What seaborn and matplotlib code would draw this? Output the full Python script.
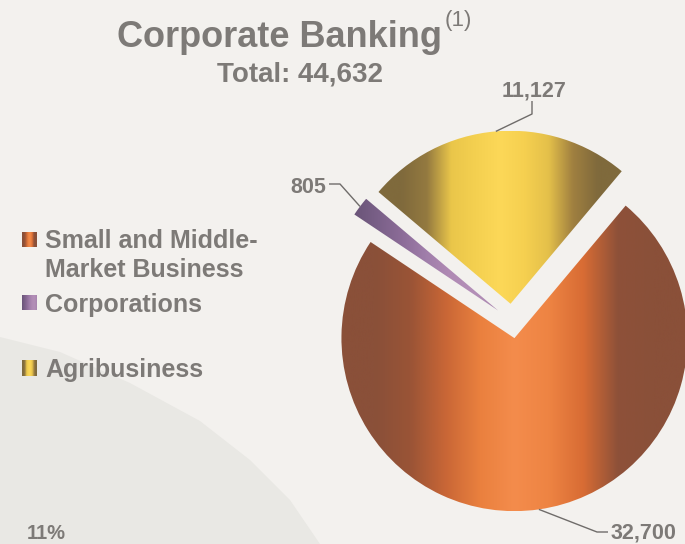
import numpy as np
import matplotlib
matplotlib.use("Agg")
import matplotlib.pyplot as plt
import seaborn as sns

# ---------------- data ----------------
categories = ["Small and Middle-\nMarket Business", "Corporations", "Agribusiness"]
values = [32700, 805, 11127]
value_labels = ["32,700", "805", "11,127"]
title = "Corporate Banking"
footnote_mark = "(1)"
total_label = "Total: 44,632"
corner_text = "11%"

# ---------------- style ----------------
sns.set_theme(style="white")
plt.rcParams['font.family'] = ['Liberation Sans', 'DejaVu Sans']
TC = '#7d7a77'
BG = '#f3f1ee'
LINE = '#6f6c6a'

W, H = 685, 544
CX, CY, R = 512, 321, 173


def d(px, py):
    """pixel position (from top-left) -> data coords of the full-figure axes"""
    return ((px - CX) / R, (CY - py) / R)


gradients = [
    ["#8a5039", "#8a5039", "#9a5436", "#c86636", "#ea803e", "#f48c4c",
     "#ee8443", "#d86c34", "#8e5139", "#8a5039", "#8a5039"],
    ["#6a5478", "#7a6088", "#8c6c98", "#a07eaa", "#b08ab4", "#b490b8", "#a884ae"],
    ["#7f6a3c", "#806a3c", "#947a40", "#eac64a", "#f4d050", "#fcd858",
     "#f6d050", "#e4c04a", "#a08040", "#806a3c", "#7f6a3c"],
]
cmaps = [sns.blend_palette(g, n_colors=256, as_cmap=True) for g in gradients]
grad = np.linspace(0, 1, 256).reshape(1, -1)

fig = plt.figure(figsize=(W / 100, H / 100), dpi=100, facecolor=BG)
ax = fig.add_axes([0, 0, 1, 1])
ax.set_facecolor(BG)

# subtle background swoosh
bg_pts = [(0, 337), (60, 352), (130, 383), (200, 421), (250, 460), (290, 500),
          (320, 544), (0, 544)]
ax.fill([d(*p)[0] for p in bg_pts], [d(*p)[1] for p in bg_pts],
        color='#e9e8e4', zorder=0, lw=0)

# ---------------- pie ----------------
wedges, _ = ax.pie(values, explode=[0.1] * len(values), startangle=50,
                   counterclock=False, radius=1,
                   wedgeprops=dict(linewidth=0))
for w, cm in zip(wedges, cmaps):
    ext = w.get_path().get_extents()
    w.set_facecolor('none')
    im = ax.imshow(grad, cmap=cm, extent=[ext.x0, ext.x1, ext.y0, ext.y1],
                   aspect='auto', origin='lower', zorder=2,
                   interpolation='bicubic')
    im.set_clip_path(w)

# ---------------- value labels with leader lines ----------------
# (elbow, end, text anchor, ha) in pixel layout
leader_layout = [
    ((597, 532), (608, 532), (611, 539), 'left'),
    ((340, 184), (329, 184), (326, 193), 'right'),
    ((532, 114), (532, 101), (534, 96), 'center'),
]
for w, lab, (elb, end, tpos, ha) in zip(wedges, value_labels, leader_layout):
    mid = np.deg2rad((w.theta1 + w.theta2) / 2)
    sx = w.center[0] + w.r * np.cos(mid)
    sy = w.center[1] + w.r * np.sin(mid)
    ex, ey = d(*elb)
    nx, ny = d(*end)
    ax.plot([sx, ex, nx], [sy, ey, ny], color=LINE, lw=1, zorder=3,
            solid_capstyle='butt')
    ax.text(*d(*tpos), lab, ha=ha, va='baseline', fontsize=15.5,
            fontweight='bold', color=TC, zorder=4)

# ---------------- titles ----------------
ax.text(*d(280, 47), title, ha='center', va='baseline', fontsize=26,
        fontweight='bold', color=TC)
ax.text(*d(445, 26), footnote_mark, ha='left', va='baseline', fontsize=16,
        color=TC)
ax.text(*d(300, 82), total_label, ha='center', va='baseline', fontsize=20,
        fontweight='bold', color=TC)

# ---------------- legend ----------------
legend_rows = [(232, 247, 248), (295, 310, 312), (360, 376, 377)]
for cat, cm, (y0, y1, base) in zip(categories, cmaps, legend_rows):
    x0, yb = d(22, y1)
    x1, yt = d(37, y0)
    ax.imshow(grad, cmap=cm, extent=[x0, x1, yb, yt], aspect='auto',
              origin='lower', zorder=3, interpolation='bicubic')
    for i, line in enumerate(cat.split("\n")):
        ax.text(*d(45, base + 29 * i), line, ha='left', va='baseline',
                fontsize=18, fontweight='bold', color=TC)

ax.text(*d(27, 539), corner_text, ha='left', va='baseline', fontsize=14.5,
        fontweight='bold', color=TC)

ax.set_xlim(d(0, 0)[0], d(W, 0)[0])
ax.set_ylim(d(0, H)[1], d(0, 0)[1])
ax.set_aspect('auto')
ax.axis('off')

fig.savefig('out.png', dpi=100, facecolor=BG)
